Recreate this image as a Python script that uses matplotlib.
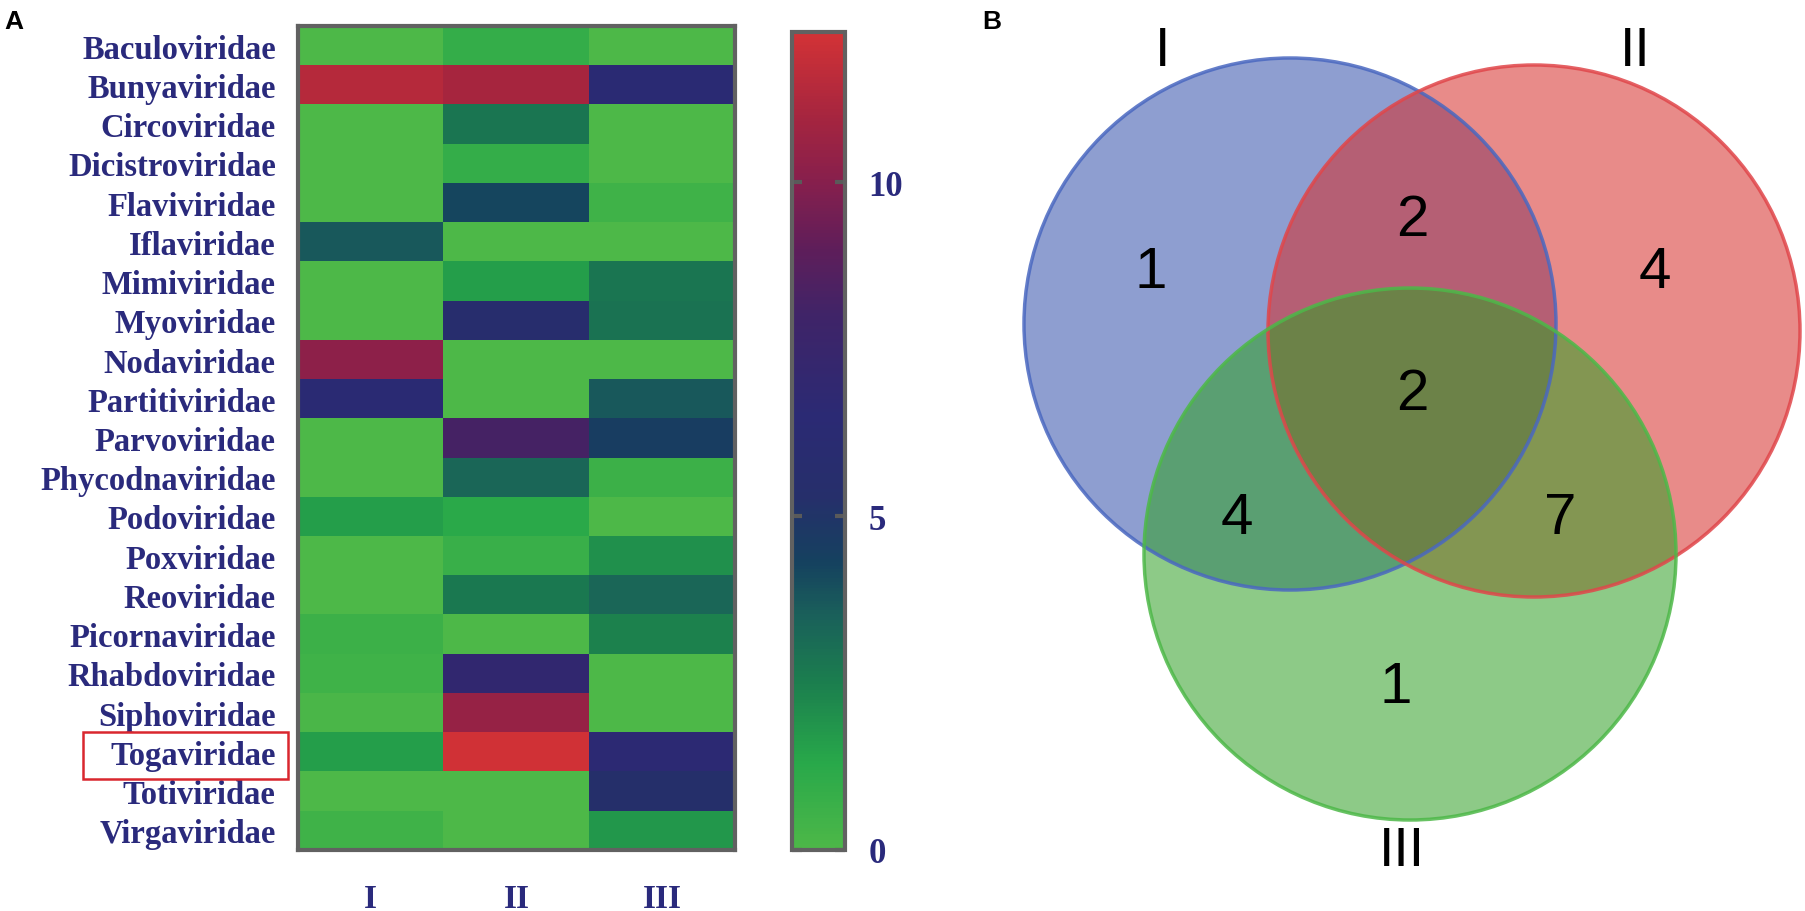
import matplotlib
matplotlib.use("Agg")
import matplotlib.pyplot as plt
import numpy as np
from matplotlib.colors import LinearSegmentedColormap
from matplotlib.patches import Circle, Rectangle

# Heatmap data (panel A)
families = ['Baculoviridae', 'Bunyaviridae', 'Circoviridae', 'Dicistroviridae',
            'Flaviviridae', 'Iflaviridae', 'Mimiviridae', 'Myoviridae',
            'Nodaviridae', 'Partitiviridae', 'Parvoviridae', 'Phycodnaviridae',
            'Podoviridae', 'Poxviridae', 'Reoviridae', 'Picornaviridae',
            'Rhabdoviridae', 'Siphoviridae', 'Togaviridae', 'Totiviridae',
            'Virgaviridae']
groups = ['I', 'II', 'III']
vals_I = [0, 11.4, 0, 0, 0, 3.7, 0, 0, 10.2, 6.5, 0, 0, 1.6, 0, 0, 0.6, 0.5, 0.1, 1.6, 0, 0.5]
vals_II = [0.9, 11.0, 2.8, 0.9, 4.2, 0, 1.6, 5.6, 0, 0, 8.2, 3.3, 1.2, 0.7, 2.7, 0, 7.0, 10.5, 12.2, 0, 0]
vals_III = [0, 6.5, 0, 0, 0.5, 0, 2.8, 2.9, 0, 3.7, 4.5, 0.6, 0, 2.0, 3.3, 2.4, 0, 0, 6.6, 5.3, 1.8]
cbar_ticks = [0, 5, 10]
vmax = 12.25

# Venn data (panel B)
set_names = ['I', 'II', 'III']
venn_counts = {'100': 1, '110': 2, '010': 4, '111': 2, '101': 4, '011': 7, '001': 1}

navy = '#2A2A7C'
grey = '#616161'
serif = 'Liberation Serif'

cmap = LinearSegmentedColormap.from_list('gbr', [
    (0.0, '#4DB848'), (1.3 / vmax, '#28A84A'), (2.5 / vmax, '#1B7E4E'),
    (3.5 / vmax, '#1A605A'), (4.3 / vmax, '#15415F'), (5.3 / vmax, '#262F6B'),
    (6.5 / vmax, '#2B2A74'), (8.0 / vmax, '#3F2468'), (9.0 / vmax, '#5E1E5A'),
    (10.0 / vmax, '#861F4D'), (11.0 / vmax, '#A6253F'), (1.0, '#D23236')])

W, H = 1805, 912
fig = plt.figure(figsize=(W / 100, H / 100), dpi=100)

def px_axes(x0, y0, x1, y1):
    return fig.add_axes([x0 / W, 1 - y1 / H, (x1 - x0) / W, (y1 - y0) / H])

# ---- heatmap ----
data = np.array([vals_I, vals_II, vals_III]).T
ax = px_axes(298, 27, 735, 851)
im = ax.imshow(data, cmap=cmap, vmin=0, vmax=vmax, aspect='auto', interpolation='nearest')
for s in ax.spines.values():
    s.set_color(grey)
    s.set_linewidth(3)
ax.set_yticks(range(len(families)))
ax.set_yticklabels(families, fontfamily=serif, fontweight='bold', fontsize=23.5, color=navy)
ax.set_xticks(range(len(groups)))
ax.set_xticklabels(groups, fontfamily=serif, fontweight='bold', fontsize=24, color=navy)
ax.tick_params(axis='y', length=0, pad=16)
ax.tick_params(axis='x', length=0, pad=24)

# highlight box around Togaviridae
fig.patches.append(Rectangle((83 / W, 1 - 780 / H), 205 / W, 47 / H,
                             transform=fig.transFigure, fill=False,
                             edgecolor='#D9272E', linewidth=1.8))

# ---- colorbar ----
cax = px_axes(792, 33, 845, 851)
cb = fig.colorbar(im, cax=cax, ticks=cbar_ticks)
cb.outline.set_edgecolor(grey)
cb.outline.set_linewidth(3)
cax.tick_params(axis='y', direction='in', left=True, right=True, length=7, width=3,
                color='#5A5A5A', pad=17)
for t in cax.get_yticklabels():
    t.set_fontfamily(serif)
    t.set_fontweight('bold')
    t.set_fontsize(25)
    t.set_color(navy)

fig.text(4 / W, 1 - 10 / H, 'A', fontsize=19, fontweight='bold', va='top', ha='left',
         family='Liberation Sans')
fig.text(982 / W, 1 - 10 / H, 'B', fontsize=19, fontweight='bold', va='top', ha='left',
         family='Liberation Sans')

# ---- Venn diagram ----
vax = px_axes(960, 0, W, H)
vax.set_xlim(960, W)
vax.set_ylim(H, 0)
vax.axis('off')

r = 266
centers = [(1290, 325), (1534, 332), (1410, 555)]
fills = ['#324FAA', '#D62C29', '#30A025']
edges = ['#4A68C0', '#E0464A', '#4DB848']
for (cx, cy), fc in zip(centers, fills):
    vax.add_patch(Circle((cx, cy), r, facecolor=fc, alpha=0.55, edgecolor='none'))
for (cx, cy), ec in zip(centers, edges):
    vax.add_patch(Circle((cx, cy), r, facecolor='none', edgecolor=ec, linewidth=2.5, alpha=0.85))

name_pos = [(1163, 52), (1635, 52), (1402, 852)]
for name, (x, y) in zip(set_names, name_pos):
    vax.text(x, y, name, fontsize=40, ha='center', va='center', family='Liberation Sans')

count_pos = {'100': (1151, 273), '110': (1412, 221), '010': (1655, 273),
             '111': (1412, 395), '101': (1237, 519), '011': (1560, 519),
             '001': (1396, 688)}
for key, n in venn_counts.items():
    x, y = count_pos[key]
    vax.text(x, y, str(n), fontsize=42, ha='center', va='center', family='Liberation Sans')

fig.savefig('out.png', dpi=100)
